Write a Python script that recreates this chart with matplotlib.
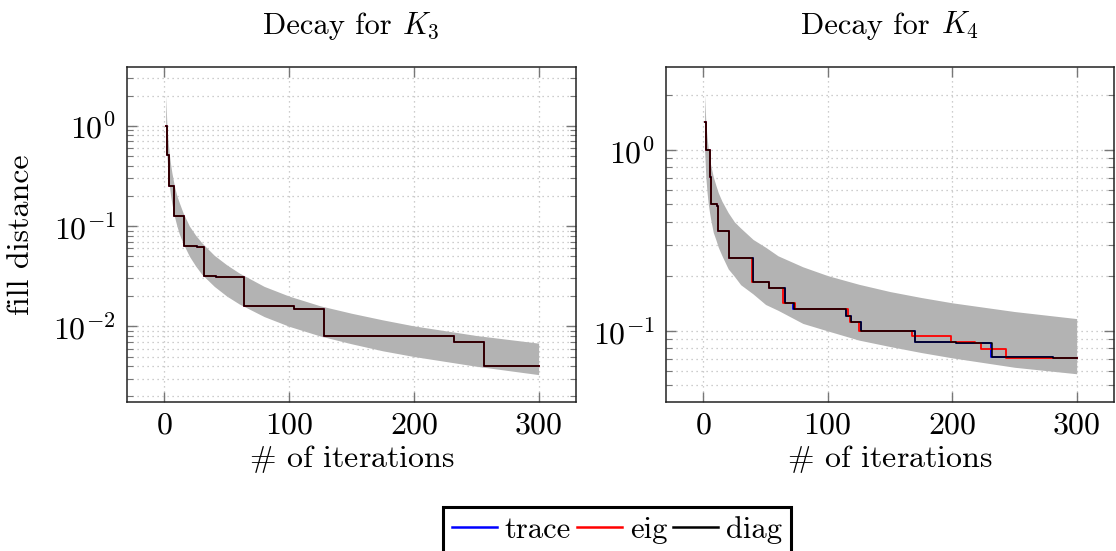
import numpy as np
import matplotlib
matplotlib.use("Agg")
import matplotlib.pyplot as plt
from matplotlib.lines import Line2D

plt.rcParams['font.family'] = 'serif'
plt.rcParams['font.serif'] = ['cmr10']
plt.rcParams['mathtext.fontset'] = 'cm'
plt.rcParams['axes.formatter.use_mathtext'] = True
plt.rcParams['font.size'] = 23

# band (reference rates)
band_x = [1, 2, 3, 4, 5, 6, 8, 10, 12, 15, 20, 25, 30, 40, 50, 60, 80, 100,
          125, 150, 175, 200, 250, 300]
k3_upper = [2.03, 1.01, 0.68, 0.51, 0.41, 0.34, 0.25, 0.20, 0.17, 0.135, 0.10,
            0.081, 0.068, 0.051, 0.041, 0.034, 0.025, 0.020, 0.016, 0.0135,
            0.0116, 0.0101, 0.0081, 0.0068]
k3_lower = [1.0, 0.5, 0.33, 0.25, 0.20, 0.167, 0.125, 0.10, 0.083, 0.067, 0.05,
            0.04, 0.033, 0.025, 0.020, 0.0167, 0.0125, 0.010, 0.008, 0.0067,
            0.0057, 0.005, 0.004, 0.0033]
k4_upper = [2.02, 1.43, 1.17, 1.01, 0.90, 0.82, 0.71, 0.64, 0.58, 0.52, 0.45,
            0.40, 0.37, 0.32, 0.29, 0.26, 0.226, 0.202, 0.181, 0.165, 0.153,
            0.143, 0.128, 0.117]
k4_lower = [1.0, 0.71, 0.58, 0.50, 0.45, 0.41, 0.35, 0.32, 0.29, 0.26, 0.22,
            0.20, 0.18, 0.16, 0.14, 0.13, 0.11, 0.10, 0.089, 0.082, 0.076,
            0.071, 0.063, 0.058]

# fill distance, K3 (all three strategies coincide)
k3_x = [1, 2, 4, 8, 16, 26, 32, 41, 64, 104, 128, 232, 256, 300]
k3_trace = [1.0, 0.51, 0.25, 0.127, 0.0637, 0.0617, 0.0319, 0.0309, 0.0158,
            0.0150, 0.0080, 0.0069, 0.0040, 0.0040]
k3_eig = list(k3_trace)
k3_diag = list(k3_trace)

# fill distance, K4
k4_trace_x = [1, 2, 5, 6, 11, 12, 21, 40, 53, 66, 72, 115, 119, 127, 170, 203,
              231, 281, 300]
k4_trace = [1.43, 1.0, 0.71, 0.50, 0.49, 0.357, 0.252, 0.187, 0.172, 0.142,
            0.132, 0.121, 0.112, 0.100, 0.0866, 0.0855, 0.0715, 0.0706, 0.0706]
k4_eig_x = [1, 2, 5, 6, 11, 12, 21, 39, 53, 64, 74, 116, 118, 125, 168, 199,
            218, 223, 243, 300]
k4_eig = [1.43, 1.0, 0.71, 0.50, 0.49, 0.357, 0.252, 0.187, 0.172, 0.142,
          0.132, 0.121, 0.112, 0.100, 0.0935, 0.0874, 0.086, 0.0792, 0.0706,
          0.0706]
k4_diag_x = [1, 2, 5, 6, 11, 12, 21, 40, 53, 66, 73, 115, 119, 127, 170, 203,
             232, 281, 300]
k4_diag = [1.43, 1.0, 0.71, 0.50, 0.49, 0.357, 0.252, 0.187, 0.172, 0.142,
           0.132, 0.121, 0.112, 0.100, 0.0866, 0.0855, 0.0715, 0.0706, 0.0706]

xticks = [0, 100, 200, 300]
colors = {'trace': '#0000ff', 'eig': '#ff0000', 'diag': '#000000'}
W, H = 1116, 551

fig = plt.figure(figsize=(W / 100, H / 100), dpi=100)
ax1 = fig.add_axes([127/W, 1 - 402/H, 449/W, 335/H])
ax2 = fig.add_axes([666/W, 1 - 402/H, 448/W, 335/H])


def style(ax, ylim):
    ax.set_yscale('log')
    ax.set_xlim(-30, 330)
    ax.set_ylim(*ylim)
    ax.set_xticks(xticks)
    ax.set_axisbelow(True)
    ax.grid(True, which='major', color='#bdbdbd', linestyle=(0, (1, 3)), lw=0.9)
    ax.grid(True, which='minor', axis='y', color='#bdbdbd',
            linestyle=(0, (1, 3)), lw=0.9)
    ax.tick_params(which='both', direction='in', top=True, right=True,
                   color='#777777')
    ax.tick_params(which='major', length=7, width=1.0)
    ax.tick_params(which='minor', length=4, width=0.8)
    ax.tick_params(axis='x', which='minor', top=False, bottom=False)
    ax.tick_params(axis='x', pad=7)
    ax.tick_params(axis='y', pad=8)
    for sp in ax.spines.values():
        sp.set_linewidth(1.1)
        sp.set_color('#222222')
    ax.set_xlabel(r'$\#$ of iterations', labelpad=3)


ax1.fill_between(band_x, k3_lower, k3_upper, color='#b3b3b3', lw=0, zorder=1)
ax1.plot(k3_x, k3_trace, color=colors['trace'], lw=1.3, drawstyle='steps-post', zorder=2)
ax1.plot(k3_x, k3_eig, color=colors['eig'], lw=1.3, drawstyle='steps-post', zorder=3)
ax1.plot(k3_x, k3_diag, color=colors['diag'], lw=1.1, drawstyle='steps-post', zorder=4)
style(ax1, (0.00176, 3.85))
ax1.set_ylabel('fill distance')
ax1.yaxis.set_label_coords(-0.205, 0.5)

ax2.fill_between(band_x, k4_lower, k4_upper, color='#b3b3b3', lw=0, zorder=1)
ax2.plot(k4_trace_x, k4_trace, color=colors['trace'], lw=1.3, drawstyle='steps-post', zorder=2)
ax2.plot(k4_eig_x, k4_eig, color=colors['eig'], lw=1.3, drawstyle='steps-post', zorder=3)
ax2.plot(k4_diag_x, k4_diag, color=colors['diag'], lw=1.1, drawstyle='steps-post', zorder=4)
style(ax2, (0.0405, 2.87))

handles = [Line2D([], [], color=colors[k], lw=1.8) for k in ['trace', 'eig', 'diag']]
leg = fig.legend(handles, ['trace', 'eig', 'diag'], loc='upper left',
                 bbox_to_anchor=(443/W, 1 - 507/H), ncol=3, fontsize=22,
                 fancybox=False, framealpha=1, edgecolor='black',
                 handlelength=1.47, handletextpad=0.25, columnspacing=0.2,
                 borderpad=0.3, borderaxespad=0)
leg.get_frame().set_linewidth(2.2)

# titles: "Decay for" as plain text plus K_n in math, centred over each axes
fig.canvas.draw()
r = fig.canvas.get_renderer()
for ax, name in [(ax1, r'$K_3$'), (ax2, r'$K_4$')]:
    bb = ax.get_window_extent(r)
    cx = (bb.x0 + bb.x1) / 2
    base = (H - 34) / H
    t1 = fig.text(0, base, 'Decay for', va='baseline', ha='left', fontsize=22)
    t2 = fig.text(0, base, name, va='baseline', ha='left', fontsize=22)
    w1 = t1.get_window_extent(r).width
    w2 = t2.get_window_extent(r).width
    gap = 11
    x0 = cx - (w1 + gap + w2) / 2
    t1.set_x(x0 / W)
    t2.set_x((x0 + w1 + gap) / W)

fig.savefig('out.png', dpi=100)
